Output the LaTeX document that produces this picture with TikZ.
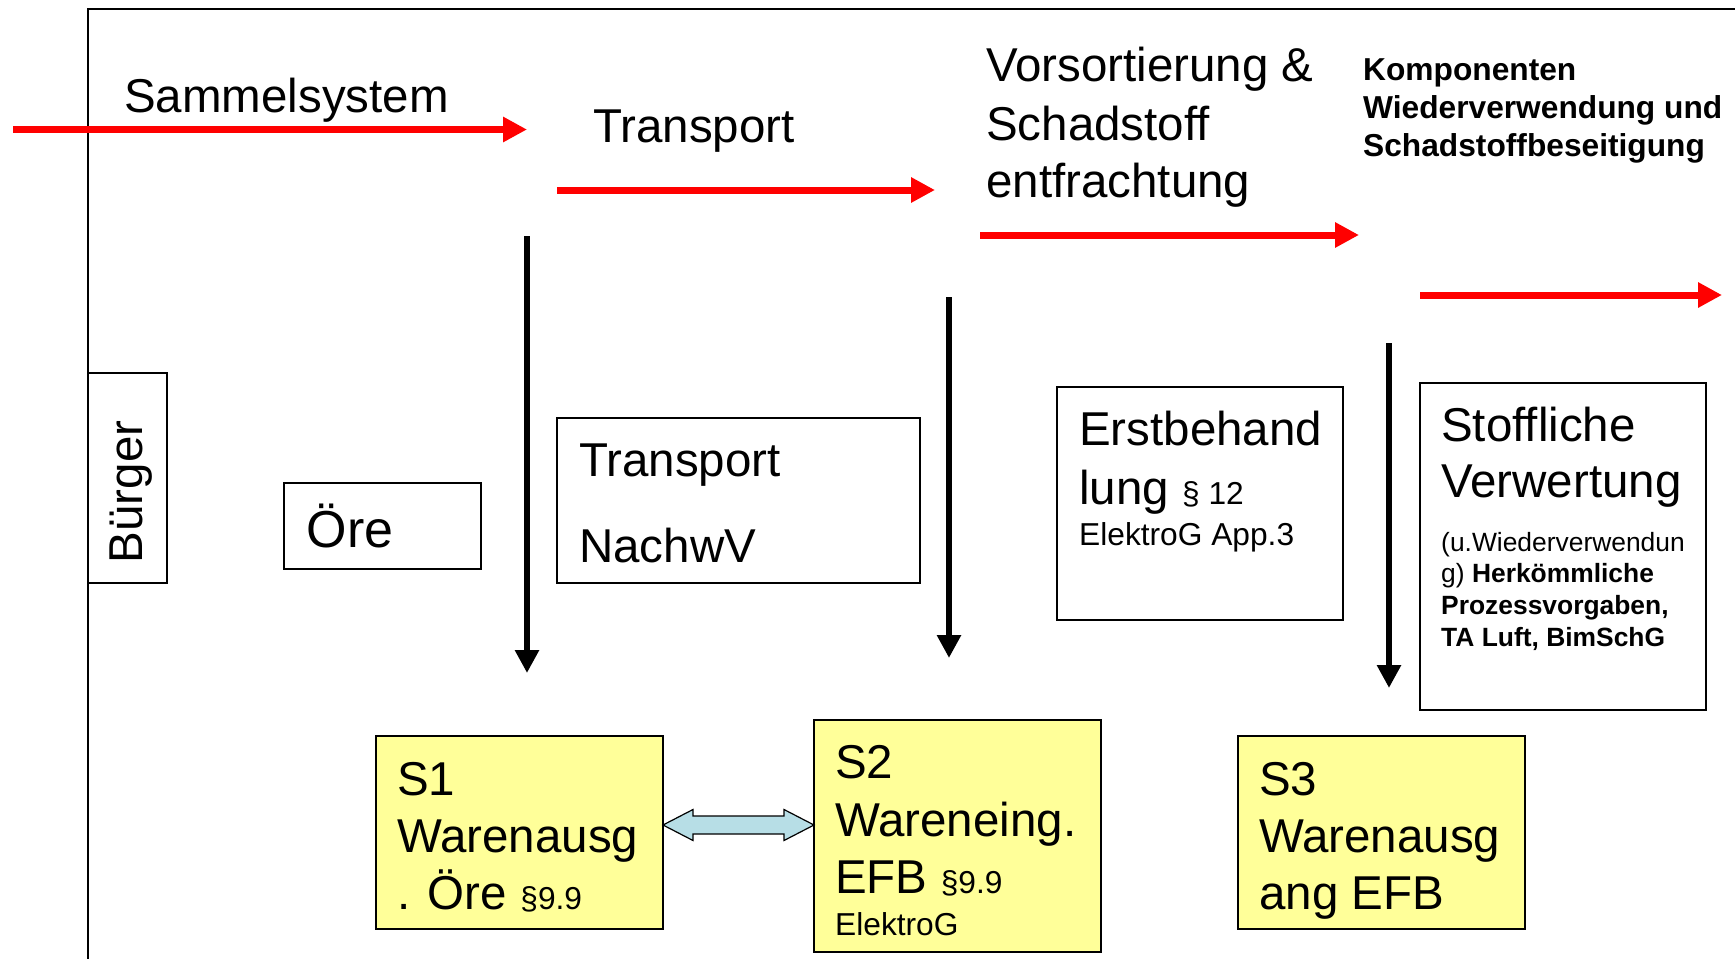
\documentclass[tikz,border=0pt]{standalone}
\usepackage{fontspec}
\setmainfont{Liberation Sans}
\usetikzlibrary{arrows.meta}
\definecolor{redarrow}{HTML}{FF0000}
\definecolor{boxyellow}{HTML}{FFFF99}
\definecolor{dblblue}{HTML}{B7DEE6}
\newcommand\FontL{\fontsize{47.5pt}{57pt}\selectfont}
\newcommand\FontO{\fontsize{52pt}{60pt}\selectfont}
\newcommand\FontM{\fontsize{31.7pt}{38pt}\selectfont}
\newcommand\FontS{\fontsize{26.4pt}{31.7pt}\selectfont}
\tikzset{
  redflow/.style={draw=redarrow, line width=7pt, -{Triangle[length=24pt,width=24pt]}},
  downflow/.style={draw=black, line width=6.7pt, -{Triangle[length=23pt,width=23pt]}},
  plainbox/.style={draw=black, line width=1.8pt, fill=white, inner sep=0pt, rectangle},
  yellowbox/.style={draw=black, line width=1.8pt, fill=boxyellow, inner sep=0pt, rectangle},
  txt/.style={inner sep=0pt, anchor=base west},
  dblarrow/.style={draw=black, line width=1.2pt, fill=dblblue},
}
\begin{document}
\begin{tikzpicture}[x=1pt,y=-1pt]
\useasboundingbox (0,0) rectangle (1735,959);
% frame
\coordinate (fr-tr) at (1735,9);
\coordinate (fr-tl) at (88,9);
\coordinate (fr-bl) at (88,959);
\draw[line width=2pt] (fr-tr) -- (fr-tl) -- (fr-bl);

% header texts
\node[txt] (t-sammel) at (124,112) {\FontL Sammelsystem};
\node[txt] (t-transp) at (593,142) {\FontL Transport};
\node[txt] (t-vors1) at (986,81) {\FontL Vorsortierung \&};
\node[txt] (t-vors2) at (986,140) {\FontL Schadstoff};
\node[txt] (t-vors3) at (986,197) {\FontL entfrachtung};
\node[txt] (t-komp1) at (1363,80) {\FontM\bfseries Komponenten};
\node[txt] (t-komp2) at (1363,118) {\FontM\bfseries Wiederverwendung und};
\node[txt] (t-komp3) at (1363,156) {\FontM\bfseries Schadstoffbeseitigung};

% red flow arrows
\coordinate (r1a) at (13,129.5);  \coordinate (r1b) at (527,129.5);
\coordinate (r2a) at (557,190);   \coordinate (r2b) at (935,190);
\coordinate (r3a) at (980,235);   \coordinate (r3b) at (1359,235);
\coordinate (r4a) at (1420,295);  \coordinate (r4b) at (1722,295);
\draw[redflow] (r1a) -- (r1b);
\draw[redflow] (r2a) -- (r2b);
\draw[redflow] (r3a) -- (r3b);
\draw[redflow] (r4a) -- (r4b);

% black down arrows
\coordinate (d1a) at (527,236);  \coordinate (d1b) at (527,673);
\coordinate (d2a) at (949,297);  \coordinate (d2b) at (949,658);
\coordinate (d3a) at (1389,343); \coordinate (d3b) at (1389,688);
\draw[downflow] (d1a) -- (d1b);
\draw[downflow] (d2a) -- (d2b);
\draw[downflow] (d3a) -- (d3b);

% Buerger
\node[plainbox, minimum width=78.5pt, minimum height=210pt] (buerger) at (127.75,478) {};
\node[inner sep=0pt, rotate=90] (t-buerger) at (131,492) {\FontL Bürger};

% Oere
\node[plainbox, minimum width=197pt, minimum height=86pt] (oere) at (382.5,526) {};
\node[txt] (t-oere) at (306.5,547) {\FontO Öre};

% Transport NachwV
\node[plainbox, minimum width=363pt, minimum height=165pt] (transp) at (738.5,500.5) {};
\node[txt] (t-tr1) at (579,476) {\FontL Transport};
\node[txt] (t-tr2) at (579,562) {\FontL NachwV};

% Erstbehandlung
\node[plainbox, minimum width=286pt, minimum height=233pt] (erst) at (1200,503.5) {};
\node[txt] (t-er1) at (1079,445) {\FontL Erstbehand};
\node[txt] (t-er2) at (1079,504) {\FontL lung \FontM§ 12};
\node[txt] (t-er3) at (1079,545) {\FontM ElektroG App.3};

% Stoffliche Verwertung
\node[plainbox, minimum width=286pt, minimum height=327pt] (stoff) at (1563,546.5) {};
\node[txt] (t-st1) at (1441,441) {\FontL Stoffliche};
\node[txt] (t-st2) at (1441,497) {\FontL Verwertung};
\node[txt] (t-st3) at (1441,551.5) {\FontS (u.Wiederverwendun};
\node[txt] (t-st4) at (1441,582.5) {\FontS g) \bfseries Herkömmliche};
\node[txt] (t-st5) at (1441,614.5) {\FontS\bfseries Prozessvorgaben,};
\node[txt] (t-st6) at (1441,646.5) {\FontS\bfseries TA Luft, BimSchG};

% S1
\node[yellowbox, minimum width=287pt, minimum height=193pt] (s1) at (519.5,832.5) {};
\node[txt] (t-s11) at (397,795) {\FontL S1};
\node[txt] (t-s12) at (397,852) {\FontL Warenausg};
\node[txt] (t-s13) at (397,909) {\FontL . Öre \FontM§9.9};

% S2
\node[yellowbox, minimum width=287pt, minimum height=232pt] (s2) at (957.5,836) {};
\node[txt] (t-s21) at (835,778) {\FontL S2};
\node[txt] (t-s22) at (835,836) {\FontL Wareneing.};
\node[txt] (t-s23) at (835,893) {\FontL EFB \FontM§9.9};
\node[txt] (t-s24) at (835,935) {\FontM ElektroG};

% S3
\node[yellowbox, minimum width=287pt, minimum height=193pt] (s3) at (1381.5,832.5) {};
\node[txt] (t-s31) at (1259,795) {\FontL S3};
\node[txt] (t-s32) at (1259,852) {\FontL Warenausg};
\node[txt] (t-s33) at (1259,909) {\FontL ang EFB};

% double arrow S1 <-> S2 (block arrow drawn as outline shape)
\draw[dblarrow]
  (663,825) -- (693,809.5) -- (693,816) -- (784,816) -- (784,809.5) -- (814,825)
  -- (784,840.5) -- (784,834) -- (693,834) -- (693,840.5) -- cycle;
\end{tikzpicture}
\end{document}
